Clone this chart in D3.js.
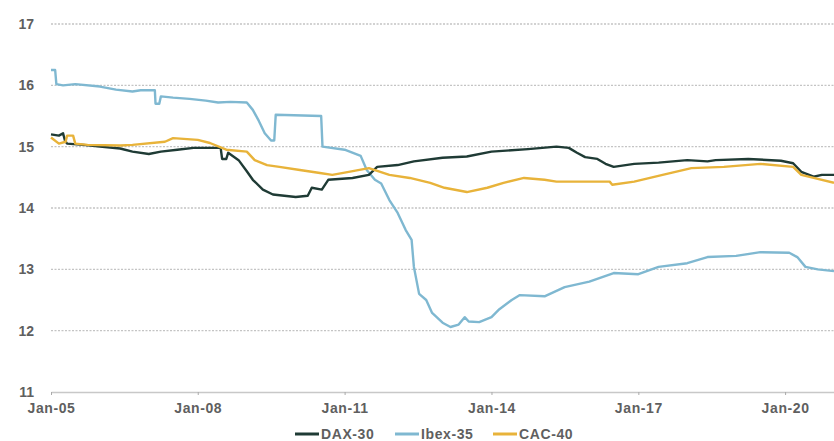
<!DOCTYPE html>
<html><head><meta charset="utf-8">
<script src="https://cdn.jsdelivr.net/npm/d3@7"></script>
<style>
html,body{margin:0;padding:0;background:#fff;}
svg{display:block;font-family:"Liberation Sans",Arial,sans-serif;}
</style></head>
<body>
<svg id="chart" width="834" height="441"></svg>
<script>
const seriesNames = ["DAX-30", "Ibex-35", "CAC-40"];
const seriesColors = ["#1f3b35", "#7fb8d1", "#e8b33a"];
const yTicks = [11, 12, 13, 14, 15, 16, 17];
const xTickLabels = ["Jan-05", "Jan-08", "Jan-11", "Jan-14", "Jan-17", "Jan-20"];
const xTickDates = ["2005-01-01", "2008-01-01", "2011-01-01", "2014-01-01", "2017-01-01", "2020-01-01"];

const daxDates = ["2005-01-01","2005-03-01","2005-04-01","2005-04-15","2005-05-01","2005-09-01","2006-01-01","2006-06-01","2006-09-01","2007-01-01","2007-04-01","2007-08-01","2007-12-01","2008-05-01","2008-06-20","2008-07-01","2008-08-01","2008-08-15","2008-11-01","2009-01-01","2009-02-15","2009-05-01","2009-07-15","2010-01-01","2010-04-01","2010-05-01","2010-07-15","2010-09-01","2011-03-01","2011-07-01","2011-09-01","2012-02-01","2012-06-01","2013-01-01","2013-07-01","2014-01-01","2014-10-01","2015-05-01","2015-08-01","2015-10-01","2015-12-01","2016-03-01","2016-05-01","2016-07-01","2016-12-01","2017-06-01","2018-01-01","2018-06-01","2018-08-01","2019-04-01","2019-12-01","2020-03-01","2020-05-01","2020-08-01","2020-10-01","2020-12-31"];
const daxValues = [15.2,15.18,15.22,15.1,15.05,15.03,15.0,14.97,14.92,14.88,14.92,14.95,14.98,14.98,14.98,14.8,14.8,14.9,14.78,14.6,14.46,14.3,14.22,14.18,14.2,14.33,14.3,14.46,14.49,14.54,14.67,14.7,14.76,14.82,14.84,14.92,14.96,15.0,14.98,14.9,14.83,14.8,14.72,14.67,14.72,14.74,14.78,14.76,14.78,14.8,14.77,14.73,14.59,14.51,14.54,14.54];

const ibexDates = ["2005-01-01","2005-02-01","2005-02-10","2005-04-01","2005-07-01","2006-01-01","2006-05-01","2006-09-01","2006-11-01","2007-02-15","2007-02-20","2007-03-20","2007-04-01","2007-07-01","2007-11-01","2008-03-01","2008-06-01","2008-09-01","2009-01-01","2009-02-15","2009-04-01","2009-05-15","2009-07-01","2009-07-25","2009-08-05","2010-07-10","2010-07-20","2011-01-01","2011-05-01","2011-06-15","2011-08-15","2011-10-01","2011-12-01","2012-02-01","2012-04-01","2012-05-15","2012-06-01","2012-07-10","2012-09-01","2012-10-15","2013-01-01","2013-03-01","2013-05-01","2013-06-15","2013-07-15","2013-10-01","2014-01-01","2014-03-01","2014-06-01","2014-08-01","2015-02-01","2015-07-01","2016-01-01","2016-07-01","2017-01-01","2017-06-01","2018-01-01","2018-06-01","2019-01-01","2019-07-01","2020-02-01","2020-04-01","2020-06-01","2020-09-01","2020-12-31"];
const ibexValues = [16.25,16.25,16.02,16.0,16.02,15.98,15.93,15.9,15.92,15.92,15.7,15.7,15.82,15.8,15.78,15.75,15.72,15.73,15.72,15.6,15.42,15.22,15.1,15.1,15.52,15.5,15.0,14.95,14.85,14.62,14.46,14.4,14.13,13.92,13.64,13.48,13.04,12.6,12.5,12.29,12.13,12.06,12.1,12.22,12.15,12.14,12.22,12.35,12.5,12.58,12.56,12.71,12.8,12.94,12.92,13.04,13.1,13.2,13.22,13.28,13.27,13.2,13.04,13.0,12.97];

const cacDates = ["2005-01-01","2005-03-01","2005-04-20","2005-05-01","2005-06-15","2005-07-01","2005-10-01","2006-06-01","2006-09-01","2007-05-01","2007-07-01","2008-01-01","2008-04-01","2008-08-01","2009-01-01","2009-03-01","2009-06-01","2009-09-01","2010-02-01","2010-07-01","2010-10-01","2011-02-01","2011-07-01","2011-12-01","2012-05-01","2012-10-01","2013-01-15","2013-07-01","2013-12-01","2014-04-01","2014-09-01","2015-02-01","2015-05-01","2016-06-01","2016-06-20","2016-12-01","2017-07-01","2018-02-01","2018-10-01","2019-07-01","2020-03-01","2020-05-01","2020-08-01","2020-12-31"];
const cacValues = [15.15,15.05,15.08,15.18,15.18,15.05,15.03,15.02,15.03,15.08,15.14,15.11,15.06,14.95,14.92,14.78,14.7,14.67,14.62,14.57,14.54,14.59,14.65,14.54,14.49,14.41,14.33,14.26,14.33,14.41,14.49,14.46,14.43,14.43,14.38,14.43,14.54,14.65,14.67,14.72,14.67,14.54,14.49,14.41];

const parse = d3.timeParse("%Y-%m-%d");
const allDates = [daxDates, ibexDates, cacDates];
const allValues = [daxValues, ibexValues, cacValues];
const series = seriesNames.map((n, i) => ({
  name: n, color: seriesColors[i],
  points: allDates[i].map((d, j) => ({date: parse(d), value: allValues[i][j]}))
}));

const svg = d3.select("#chart");
const x = d3.scaleTime().domain([parse("2005-01-01"), parse("2020-12-31")]).range([51, 834]);
const y = d3.scaleLinear().domain([11, 17]).range([392, 24]);
const textColor = "#5f5f5f";

// gridlines
svg.append("g").selectAll("line").data(yTicks.filter(t => t > 11)).join("line")
  .attr("x1", 51).attr("x2", 834)
  .attr("y1", d => y(d)).attr("y2", d => y(d))
  .attr("stroke", "#c4c4c4").attr("stroke-width", 1.3).attr("stroke-dasharray", "2,1.5");

// y labels
svg.append("g").selectAll("text").data(yTicks).join("text")
  .attr("x", 34).attr("y", d => y(d) + 5)
  .attr("text-anchor", "end").attr("fill", textColor)
  .attr("font-size", 14).attr("font-weight", "bold")
  .text(d => d);

// x axis
const xAxis = d3.axisBottom(x)
  .tickValues(xTickDates.map(parse))
  .tickFormat((d, i) => xTickLabels[i])
  .tickSizeInner(3).tickSizeOuter(0).tickPadding(8);
const gx = svg.append("g").attr("transform", "translate(0,392)").call(xAxis);
gx.select(".domain").attr("stroke", "#c8c8c8").attr("stroke-width", 1.5);
gx.selectAll(".tick line").attr("stroke", "#aaa");
gx.selectAll(".tick text").attr("fill", textColor).attr("font-size", 14)
  .attr("font-weight", "bold").attr("font-family", "'Liberation Sans',Arial,sans-serif")
  .attr("letter-spacing", "0.6px");

// lines
const line = d3.line().x(d => x(d.date)).y(d => y(d.value)).curve(d3.curveLinear);
const order = [1, 0, 2];
svg.append("g").selectAll("path").data(order.map(i => series[i])).join("path")
  .attr("d", d => line(d.points))
  .attr("fill", "none").attr("stroke", d => d.color)
  .attr("stroke-width", 2.4).attr("stroke-linejoin", "round");

// legend
const legendX = [295, 395, 493];
const lg = svg.append("g").selectAll("g").data(series).join("g")
  .attr("transform", (d, i) => `translate(${legendX[i]},434)`);
lg.append("line").attr("x1", 0).attr("x2", 24).attr("y1", 0).attr("y2", 0)
  .attr("stroke", d => d.color).attr("stroke-width", 3);
lg.append("text").attr("x", 26).attr("y", 5).attr("fill", textColor)
  .attr("font-size", 14).attr("font-weight", "bold").attr("letter-spacing", "0.6px")
  .text(d => d.name);
</script>
</body></html>
